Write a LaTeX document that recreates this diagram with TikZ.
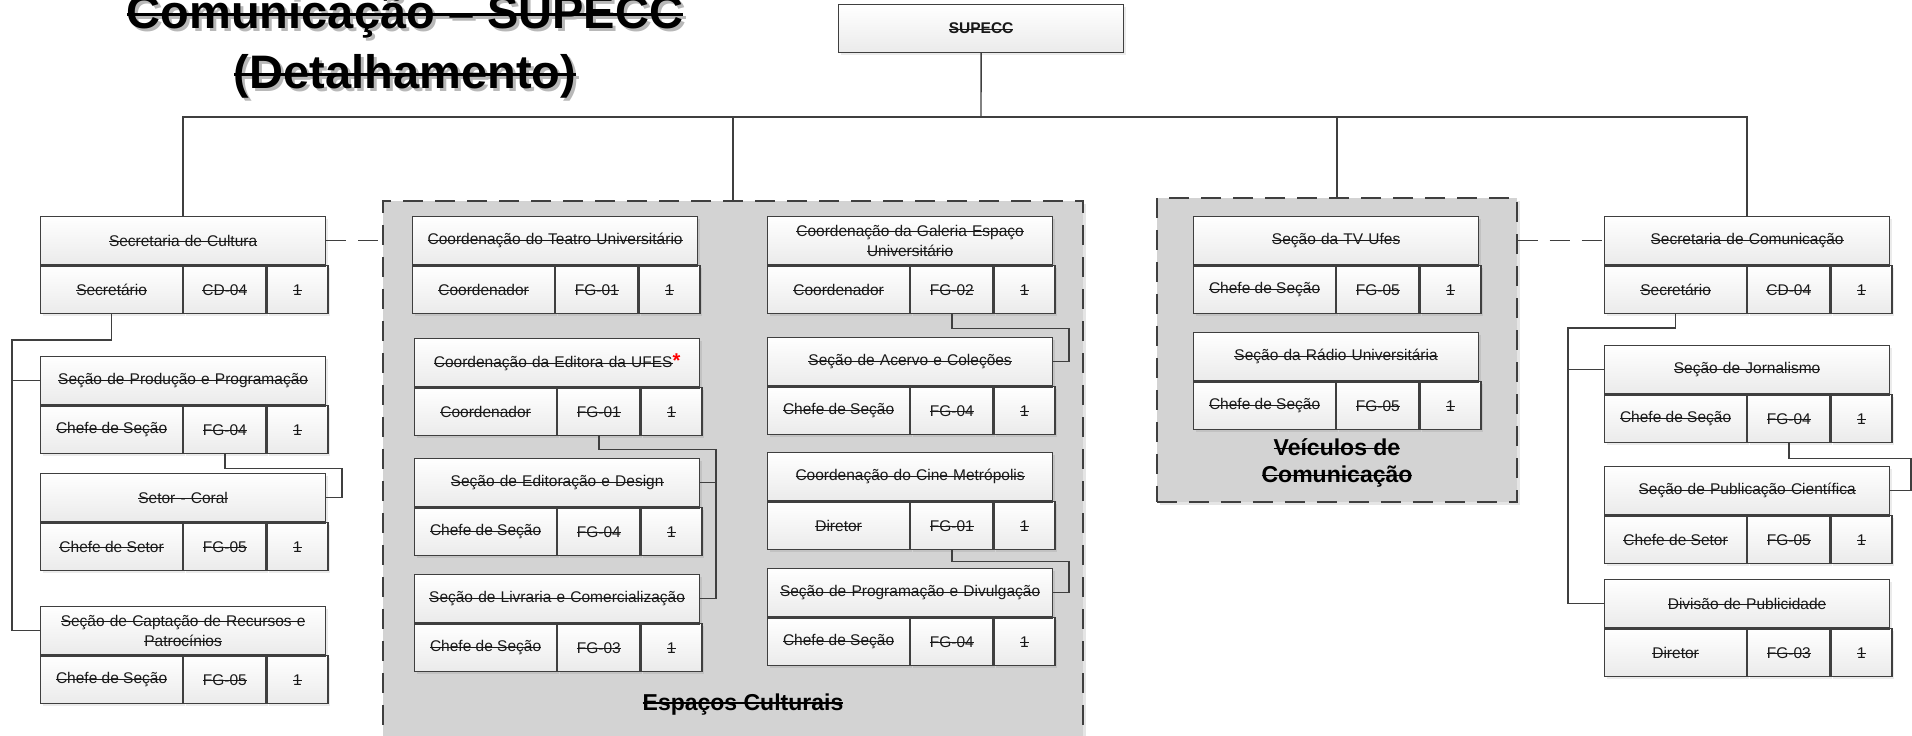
\documentclass[tikz,border=0pt]{standalone}
\usepackage{fontspec}
\setmainfont{Liberation Sans}
\usetikzlibrary{shadows}
\definecolor{borda}{HTML}{3F3F3F}
\definecolor{fundo}{HTML}{D3D3D3}
\newsavebox{\risco}
\newcommand{\riscado}[2][0.9pt]{\mbox{\sbox{\risco}{#2}\rlap{\usebox{\risco}}\raisebox{0.5ex}{\rule{\wd\risco}{#1}}}}

\begin{document}
\begin{tikzpicture}[x=1pt,y=-1pt,
  linha/.style={draw=borda,line width=1.4pt},
  tracejado/.style={draw=borda,line width=1.6pt,dash pattern=on 20pt off 12pt},
  grupo/.style={tracejado,fill=fundo,anchor=north west,inner sep=0pt,
    drop shadow={shadow xshift=3pt,shadow yshift=-3pt,fill=black,opacity=0.1}},
  caixa/.style={draw=borda,line width=1.2pt,top color=white,bottom color=black!8,
    anchor=north west,inner sep=1pt,minimum height=48pt,align=center,text=black!90,
    font=\fontsize{15.5}{20}\selectfont,
    drop shadow={shadow xshift=2pt,shadow yshift=-2pt,fill=black,opacity=0.08}},
  titulo/.style={caixa,minimum width=285pt,text width=280pt},
  rotulo/.style={font=\fontsize{23}{27}\selectfont\bfseries,align=center,text=black},
  manchete/.style={anchor=base,font=\fontsize{47}{56}\selectfont\bfseries}]
  \useasboundingbox (0,0) rectangle (1912,736);
  % unidade: nome, x, y, titulo, cargo, codigo, quantidade
  \def\unidade#1#2#3#4#5#6#7{%
    \node[titulo] (#1) at (#2,#3) {#4};
    \node[caixa,minimum width=142pt] (#1-cargo) at (#1.south west) {\riscado{#5}};
    \node[caixa,minimum width=82pt] (#1-fg) at (#1-cargo.north east) {\riscado{#6}};
    \node[caixa,minimum width=61pt] (#1-qtd) at (#1-fg.north east) {\riscado{#7}};
    \draw[borda,line width=3pt] (#1.south west) -- (#1.south east);}

  % titulo com sombra
  \node[manchete,text=black!28] (sombra1) at (408,31) {\riscado[3pt]{Comunicação – SUPECC}};
  \node[manchete,text=black!28] (sombra2) at (408,91) {\riscado[3pt]{(Detalhamento)}};
  \node[manchete] (titulo1) at (405,28) {\riscado[3pt]{Comunicação – SUPECC}};
  \node[manchete] (titulo2) at (405,88) {\riscado[3pt]{(Detalhamento)}};

  % grupos
  \node[grupo,minimum width=700pt,minimum height=560pt] (espacos) at (382,200) {};
  \node[grupo,minimum width=360pt,minimum height=304pt] (veiculos) at (1156,197) {};
  \node[rotulo,anchor=base] (rotEspacos) at (743,710) {\riscado[1.8pt]{Espaços Culturais}};
  \node[rotulo] (rotVeiculos) at (1337,463) {\riscado[1.8pt]{Veículos de}\\\riscado[1.8pt]{Comunicação}};

  \node[caixa,minimum width=285pt,font=\fontsize{15.5}{20}\selectfont\bfseries] (supecc) at (838,4) {\riscado{SUPECC}};

  \unidade{cultura}{40}{216}{\riscado{Secretaria de Cultura}}{Secretário}{CD-04}{1}
  \unidade{producao}{40}{356}{\riscado{Seção de Produção e Programação}}{Chefe de Seção}{FG-04}{1}
  \unidade{coral}{40}{473}{\riscado{Setor - Coral}}{Chefe de Setor}{FG-05}{1}
  \unidade{captacao}{40}{606}{\riscado{Seção de Captação de Recursos e}\\\riscado{Patrocínios}}{Chefe de Seção}{FG-05}{1}

  \unidade{teatro}{412}{216}{\riscado{Coordenação do Teatro Universitário}}{Coordenador}{FG-01}{1}
  \unidade{editora}{414}{338}{\riscado{Coordenação da Editora da UFES}\textcolor{red}{\fontsize{20}{20}\selectfont\bfseries*}}{Coordenador}{FG-01}{1}
  \unidade{editoracao}{414}{458}{\riscado{Seção de Editoração e Design}}{Chefe de Seção}{FG-04}{1}
  \unidade{livraria}{414}{574}{\riscado{Seção de Livraria e Comercialização}}{Chefe de Seção}{FG-03}{1}
  \unidade{galeria}{767}{216}{\riscado{Coordenação da Galeria Espaço}\\\riscado{Universitário}}{Coordenador}{FG-02}{1}
  \unidade{acervo}{767}{337}{\riscado{Seção de Acervo e Coleções}}{Chefe de Seção}{FG-04}{1}
  \unidade{cine}{767}{452}{\riscado{Coordenação do Cine Metrópolis}}{Diretor}{FG-01}{1}
  \unidade{programacao}{767}{568}{\riscado{Seção de Programação e Divulgação}}{Chefe de Seção}{FG-04}{1}

  \unidade{tv}{1193}{216}{\riscado{Seção da TV Ufes}}{Chefe de Seção}{FG-05}{1}
  \unidade{radio}{1193}{332}{\riscado{Seção da Rádio Universitária}}{Chefe de Seção}{FG-05}{1}

  \unidade{comunicacao}{1604}{216}{\riscado{Secretaria de Comunicação}}{Secretário}{CD-04}{1}
  \unidade{jornalismo}{1604}{345}{\riscado{Seção de Jornalismo}}{Chefe de Seção}{FG-04}{1}
  \unidade{publicacao}{1604}{466}{\riscado{Seção de Publicação Científica}}{Chefe de Setor}{FG-05}{1}
  \unidade{divisao}{1604}{579}{\riscado{Divisão de Publicidade}}{Diretor}{FG-03}{1}

  % ligacoes
  \coordinate (barra) at (981,117);
  \draw[linha] (supecc.south) -- (barra);
  \draw[linha] (barra) -| (cultura.north);
  \draw[linha] (barra) -| (espacos.north);
  \draw[linha] (barra) -| (veiculos.north);
  \draw[linha] (barra) -| (comunicacao.north);
  \draw[tracejado] (cultura.east) -- (espacos.west |- cultura.east);
  \draw[tracejado] (veiculos.east |- comunicacao.west) -- (comunicacao.west);

  \coordinate (eCultura) at (12,340);
  \draw[linha] (cultura-cargo.south) |- (eCultura) |- (captacao.west);
  \draw[linha] (eCultura |- producao.west) -- (producao.west);
  \draw[linha] (producao-fg.south) |- ++(117,14) |- (coral.east);

  \draw[linha] (editora-fg.south) |- ++(117,13) coordinate (dEditora) |- (livraria.east);
  \draw[linha] (editoracao.east) -- (editoracao.east -| dEditora);
  \draw[linha] (galeria-fg.south) |- ++(117,14) |- (acervo.east);
  \draw[linha] (cine-fg.south) |- ++(117,11) |- (programacao.east);

  \coordinate (eComunicacao) at (1568,328);
  \draw[linha] (comunicacao-cargo.south) |- (eComunicacao) |- (divisao.west);
  \draw[linha] (eComunicacao |- jornalismo.west) -- (jornalismo.west);
  \draw[linha] (jornalismo-fg.south) |- ++(122,15) |- (publicacao.east);
\end{tikzpicture}
\end{document}
